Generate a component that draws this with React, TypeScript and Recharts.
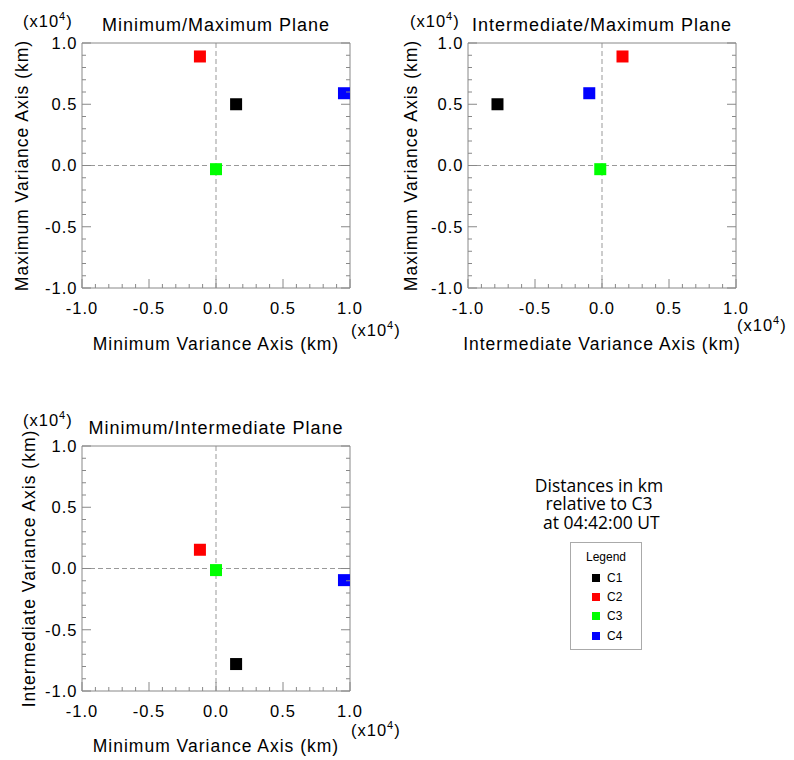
import { ScatterChart, Scatter, XAxis, YAxis, ReferenceLine, Label } from "recharts";

// spacecraft positions relative to C3, in units of 10^4 km
const CRAFT = ["C1", "C2", "C3", "C4"];
const COLORS = ["#000000", "#ff0000", "#00ff00", "#0000ff"];
const MIN_VAR = [0.15, -0.12, 0.0, 0.955];
const INT_VAR = [-0.78, 0.153, -0.013, -0.095];
const MAX_VAR = [0.5, 0.89, -0.03, 0.59];

const TICKS = [
  -1, -0.9, -0.8, -0.7, -0.6, -0.5, -0.4, -0.3, -0.2, -0.1, 0,
  0.1, 0.2, 0.3, 0.4, 0.5, 0.6, 0.7, 0.8, 0.9, 1,
];

const SANS = "'Liberation Sans', Arial, sans-serif";
const BOX = "#888888";

const rows = CRAFT.map((name, i) => ({
  name,
  color: COLORS[i],
  min: MIN_VAR[i],
  int: INT_VAR[i],
  max: MAX_VAR[i],
}));

const isMajor = (v: number) => Math.abs(v * 2 - Math.round(v * 2)) < 1e-6;

type Side = "bottom" | "left" | "top" | "right";

function makeTick(side: Side) {
  return (props: any) => {
    const { x, y, payload } = props;
    const v = payload.value as number;
    const len = isMajor(v) ? 9 : 4;
    let line;
    if (side === "bottom") line = <line x1={x} x2={x} y1={y} y2={y - len} stroke={BOX} />;
    else if (side === "top") line = <line x1={x} x2={x} y1={y} y2={y + len} stroke={BOX} />;
    else if (side === "left") line = <line x1={x} x2={x + len} y1={y} y2={y} stroke={BOX} />;
    else line = <line x1={x} x2={x - len} y1={y} y2={y} stroke={BOX} />;

    let label = null;
    const txt = { fontFamily: SANS, fontSize: 16.5, letterSpacing: 1 };
    if (isMajor(v) && side === "bottom")
      label = (
        <text x={x} y={y + 14} dy="0.71em" textAnchor="middle" fill="#000" style={txt}>
          {v.toFixed(1)}
        </text>
      );
    if (isMajor(v) && side === "left")
      label = (
        <text x={x - 4.5} y={y} dy="0.35em" textAnchor="end" fill="#000" style={txt}>
          {v.toFixed(1)}
        </text>
      );
    return (
      <g>
        {line}
        {label}
      </g>
    );
  };
}

function Exp10({ x, y }: { x: number; y: number }) {
  return (
    <text x={x} y={y} fill="#000" style={{ fontFamily: SANS, fontSize: 16.5, letterSpacing: 1 }}>
      (x10
      <tspan dy={-7} style={{ fontSize: 11 }}>
        4
      </tspan>
      <tspan dy={7}>)</tspan>
    </text>
  );
}

function Square(props: any) {
  const { cx, cy, fill } = props;
  return <rect x={cx - 6} y={cy - 6} width={12} height={12} fill={fill} />;
}

type PanelProps = {
  title: string;
  xKey: "min" | "int" | "max";
  yKey: "min" | "int" | "max";
  xTitle: string;
  yTitle: string;
  left: number;
  top: number;
  height: number;
  marginTop: number;
  xAxisHeight: number;
  xTitleOffset: number;
  yTitleOffset: number;
  yTitleShift: number;
  expTopY: number;
  expTopX: number;
  expBottomY: number;
};

function Panel(p: PanelProps) {
  const axisCommon = {
    type: "number" as const,
    domain: [-1, 1],
    ticks: TICKS,
    interval: 0 as const,
    allowDataOverflow: true,
    tickLine: false,
    tickSize: 0,
    tickMargin: 0,
    stroke: BOX,
  };
  return (
    <div style={{ position: "absolute", left: p.left, top: p.top }}>
      <ScatterChart
        width={408}
        height={p.height}
        margin={{ top: p.marginTop, right: 57, bottom: 0, left: 0 }}
      >
        <XAxis {...axisCommon} dataKey={p.xKey} orientation="bottom" height={p.xAxisHeight} tick={makeTick("bottom")}>
          <Label
            value={p.xTitle}
            position="insideBottom"
            offset={p.xTitleOffset}
            fill="#000"
            style={{ fontFamily: SANS, fontSize: 17.5, letterSpacing: 1 }}
          />
        </XAxis>
        <XAxis {...axisCommon} xAxisId="top" orientation="top" height={1} tick={makeTick("top")}>
          <Label
            value={p.title}
            position="top"
            offset={11.5}
            fill="#000"
            style={{ fontFamily: SANS, fontSize: 18, letterSpacing: 1 }}
          />
        </XAxis>
        <YAxis {...axisCommon} dataKey={p.yKey} orientation="left" width={82} tick={makeTick("left")}>
          <Label
            value={p.yTitle}
            angle={-90}
            position="insideLeft"
            offset={p.yTitleOffset}
            dx={p.yTitleShift}
            fill="#000"
            style={{ fontFamily: SANS, fontSize: 17.5, letterSpacing: 1, textAnchor: "middle" }}
          />
          <Label content={(lp: any) => <Exp10 x={lp.viewBox.x + p.expTopX} y={lp.viewBox.y - p.expTopY} />} />
        </YAxis>
        <YAxis {...axisCommon} yAxisId="right" orientation="right" width={1} tick={makeTick("right")}>
          <Label
            content={(lp: any) => (
              <Exp10 x={lp.viewBox.x + 1} y={lp.viewBox.y + lp.viewBox.height + p.expBottomY} />
            )}
          />
        </YAxis>
        <ReferenceLine x={0} stroke="#999" strokeDasharray="5 3" />
        <ReferenceLine y={0} stroke="#999" strokeDasharray="5 3" />
        {rows.map((r) => (
          <Scatter
            key={r.name}
            name={r.name}
            data={[r]}
            fill={r.color}
            shape={Square}
            isAnimationActive={false}
          />
        ))}
      </ScatterChart>
    </div>
  );
}

export default function App() {
  return (
    <div
      style={{
        position: "absolute",
        left: 0,
        top: 0,
        width: 794,
        height: 760,
        background: "#fff",
        overflow: "hidden",
      }}
    >
      <Panel
        title="Minimum/Maximum Plane"
        xKey="min"
        yKey="max"
        xTitle="Minimum Variance Axis (km)"
        yTitle="Maximum Variance Axis (km)"
        left={0}
        top={0}
        height={372}
        marginTop={42}
        xAxisHeight={84}
        xTitleOffset={22}
        yTitleOffset={22}
        yTitleShift={0}
        expTopX={23}
        expTopY={16.5}
        expBottomY={48}
      />
      <Panel
        title="Intermediate/Maximum Plane"
        xKey="int"
        yKey="max"
        xTitle="Intermediate Variance Axis (km)"
        yTitle="Maximum Variance Axis (km)"
        left={386}
        top={0}
        height={372}
        marginTop={42}
        xAxisHeight={84}
        xTitleOffset={22}
        yTitleOffset={25}
        yTitleShift={0}
        expTopX={24}
        expTopY={16.5}
        expBottomY={43}
      />
      <Panel
        title="Minimum/Intermediate Plane"
        xKey="min"
        yKey="int"
        xTitle="Minimum Variance Axis (km)"
        yTitle="Intermediate Variance Axis (km)"
        left={0}
        top={400}
        height={360}
        marginTop={45}
        xAxisHeight={69}
        xTitleOffset={8.3}
        yTitleOffset={22}
        yTitleShift={7}
        expTopX={23}
        expTopY={20}
        expBottomY={45}
      />

      <div
        style={{
          position: "absolute",
          left: 499,
          top: 475.75,
          width: 200,
          textAlign: "center",
          fontFamily: "'Open Sans', sans-serif",
          fontSize: 17.5,
          lineHeight: "18.5px",
          color: "#000",
          whiteSpace: "pre",
        }}
      >
        {"Distances in km\nrelative to C3\n at 04:42:00 UT"}
      </div>

      <div
        style={{
          position: "absolute",
          left: 570,
          top: 542,
          width: 70,
          height: 106,
          border: "1px solid #aaa",
          fontFamily: SANS,
          fontSize: 12,
          color: "#000",
        }}
      >
        <div style={{ position: "absolute", left: 0, width: 70, top: 7, textAlign: "center", lineHeight: "14px" }}>
          Legend
        </div>
        {rows.map((r, i) => (
          <div key={r.name} style={{ position: "absolute", left: 0, top: 27.7 + i * 19.3, height: 14 }}>
            <div
              style={{
                position: "absolute",
                left: 21,
                top: 3,
                width: 8,
                height: 8,
                background: r.color,
              }}
            />
            <div style={{ position: "absolute", left: 36, top: 0, lineHeight: "14px" }}>{r.name}</div>
          </div>
        ))}
      </div>
    </div>
  );
}
